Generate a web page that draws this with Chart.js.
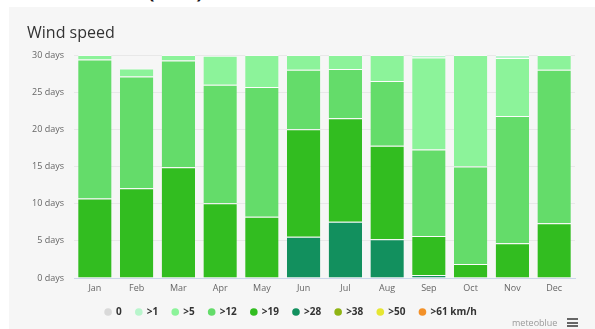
<!DOCTYPE html>
<html><head><meta charset="utf-8">
<script src="https://cdn.jsdelivr.net/npm/chart.js@4/dist/chart.umd.min.js"></script>
<style>
html,body{margin:0;padding:0;background:#fff;width:595px;height:329px;overflow:hidden;font-family:'Open Sans',sans-serif}
#bg{position:absolute;left:9px;top:7px;right:0;bottom:0;background:#f6f6f6}
#wrap{position:absolute;left:0;top:0;width:595px;height:329px}
.paren{position:absolute;top:-29px;font-size:30px;line-height:30px;color:#111}
#credit{position:absolute;left:512px;top:316px;font-size:9px;color:#999}
#menu{position:absolute;left:567px;top:318px;width:11px}
#menu i{display:block;height:2px;background:#666;margin-bottom:1.5px}
</style></head><body>
<div class="paren" style="left:146px">(</div>
<div class="paren" style="left:196px">)</div>
<div id="bg"></div>
<div id="wrap"><canvas id="c" width="595" height="329"></canvas></div>
<div id="credit">meteoblue</div>
<div id="menu"><i></i><i></i><i></i></div>
<script>
const months = ['Jan','Feb','Mar','Apr','May','Jun','Jul','Aug','Sep','Oct','Nov','Dec'];
const yTicks = [0,5,10,15,20,25,30];
const s61 = [0,0,0,0,0,0,0,0,0,0,0,0];
const s50 = [0,0,0,0,0,0,0,0,0,0,0,0];
const s38 = [0,0,0,0,0,0,0,0,0,0,0,0];
const s28 = [0,0,0,0,0,5.56,7.58,5.2,0.4,0,0,0];
const s19 = [10.7,12.07,14.9,10.05,8.25,14.44,13.92,12.6,5.25,1.9,4.67,7.36];
const s12 = [18.68,15.03,14.35,15.95,17.45,8.0,6.6,8.7,11.65,13.1,17.13,20.64];
const s5  = [0.62,1.07,0.75,3.9,4.3,2.0,1.9,3.5,12.35,15.0,7.8,2.0];
const s1  = [0,0,0,0,0,0,0,0,0.35,0,0.4,0];
const s0  = [0,0,0,0,0,0,0,0,0,0,0,0];

const series = [
  {label:'>61 km/h', data:s61, color:'#f39128'},
  {label:'>50', data:s50, color:'#e6e632'},
  {label:'>38', data:s38, color:'#8fb414'},
  {label:'>28', data:s28, color:'#12905e'},
  {label:'>19', data:s19, color:'#32bd20'},
  {label:'>12', data:s12, color:'#64dc6a'},
  {label:'>5',  data:s5,  color:'#8cf39a'},
  {label:'>1',  data:s1,  color:'#b8f5cc'},
  {label:'0',   data:s0,  color:'#d9d9d9'}
];

const AREA_BOTTOM = 278;
const PAD_BOTTOM = -30;
const LEG_CENTER_Y = 312;
const LEG_SHIFT = -10;

const legendPos = {
  id:'legendPos',
  beforeDraw(chart){
    const lg = chart.legend;
    const pad = lg.options.labels.padding;
    const fs = lg.options.labels.font.size;
    const h = lg.bottom - lg.top;
    lg.top = LEG_CENTER_Y - pad - fs/2;
    lg.bottom = lg.top + h;
    lg.left += LEG_SHIFT; lg.right += LEG_SHIFT;
  }
};

new Chart(document.getElementById('c'), {
  type:'bar',
  data:{
    labels: months,
    datasets: series.map(s => ({
      label:s.label, data:s.data, backgroundColor:s.color,
      borderColor:'rgba(255,255,255,0.75)',
      borderWidth:{top:1,left:0,right:0,bottom:0},
      borderSkipped:false,
      barPercentage:0.8, categoryPercentage:1
    }))
  },
  plugins:[legendPos],
  options:{
    responsive:false, animation:false,
    layout:{padding:{left:27,right:20,top:10,bottom:PAD_BOTTOM}},
    plugins:{
      title:{display:true,text:'Wind speed',align:'start',color:'#333',
        font:{family:'Open Sans',size:16,weight:'normal'},padding:{top:13.4,bottom:12.4}},
      legend:{position:'bottom',reverse:true,
        labels:{usePointStyle:true,pointStyle:'circle',boxWidth:6,boxHeight:5.4,padding:14,
          color:'#333',font:{family:'Open Sans',size:10,weight:'bold'},
          generateLabels(chart){
            return Chart.defaults.plugins.legend.labels.generateLabels(chart).map(it => {
              it.lineWidth = 0; it.strokeStyle = it.fillStyle; return it;
            });
          }}},
      tooltip:{enabled:false}
    },
    scales:{
      x:{stacked:true,
        grid:{display:false,drawTicks:false},
        border:{display:true,color:'#ccd6eb',width:1},
        ticks:{color:'#666',font:{family:'Open Sans',size:9},padding:5,maxRotation:0,autoSkip:false},
        afterFit(scale){
          const lg = scale.chart.legend;
          scale.height = 329 - PAD_BOTTOM - (lg ? lg.height : 0) - AREA_BOTTOM;
        }
      },
      y:{stacked:true,min:0,max:30,
        afterBuildTicks(scale){ scale.ticks = yTicks.map(v => ({value:v})); },
        grid:{color:'#e8e8e8',drawTicks:false},
        border:{display:false},
        ticks:{color:'#666',font:{family:'Open Sans',size:9},padding:10,
          callback:v => v + ' days'},
        afterFit(scale){ scale.width = 47; }
      }
    }
  }
});
</script>
</body></html>
